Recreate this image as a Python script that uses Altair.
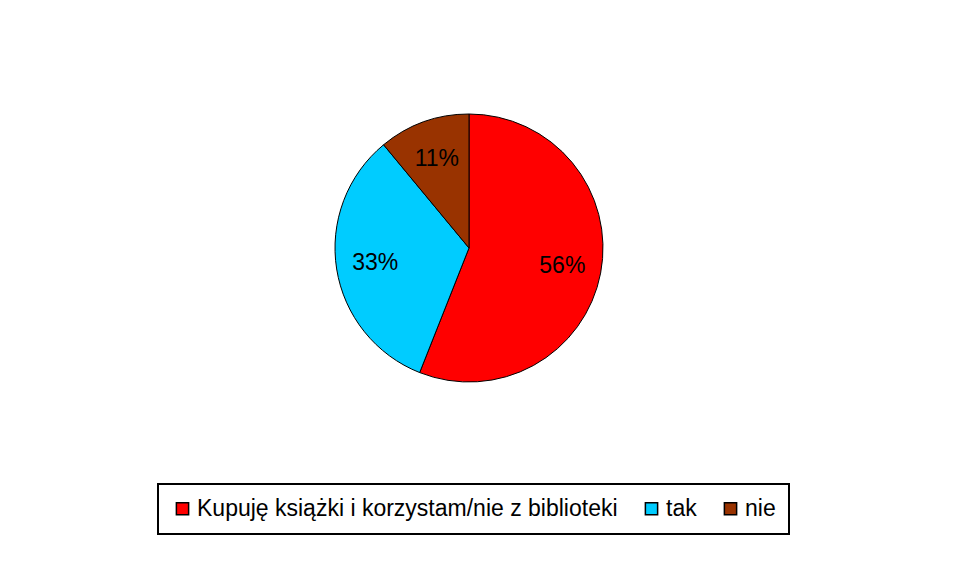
import altair as alt
import pandas as pd

categories = ["Kupuję książki i korzystam/nie z biblioteki", "tak", "nie"]
values = [56, 33, 11]
labels = ["56%", "33%", "11%"]
colors = ["#FF0000", "#00CCFF", "#993300"]
order = [0, 1, 2]

df = pd.DataFrame({"cat": categories, "value": values, "label": labels, "order": order})

FONT = "Liberation Sans"

base = alt.Chart(df).encode(
    theta=alt.Theta("value:Q", stack=True),
    order=alt.Order("order:Q"),
    x=alt.value(461),
    y=alt.value(240),
)

pie = base.mark_arc(outerRadius=134, stroke="black", strokeWidth=1).encode(
    color=alt.Color(
        "cat:N",
        scale=alt.Scale(domain=categories, range=colors),
        sort=categories,
        legend=alt.Legend(
            title=None,
            orient="none",
            legendX=150,
            legendY=476,
            direction="horizontal",
            symbolType="square",
            symbolSize=150,
            symbolStrokeColor="black",
            symbolStrokeWidth=1.5,
            labelFont=FONT,
            labelFontSize=23,
            labelColor="black",
            labelOffset=3,
            columnPadding=22,
            padding=13,
            labelLimit=600,
        ),
    )
)

text = base.mark_text(radius=95, fontSize=23, font=FONT, color="black").encode(
    text="label:N"
)

chart = (
    alt.layer(pie, text)
    .properties(width=952, height=556, autosize="none", padding=0)
    .configure_view(stroke=None)
    .configure_legend(strokeColor="black", strokeWidth=2)
)

chart.save("out.html", embed_options={"renderer": "svg", "actions": False})
